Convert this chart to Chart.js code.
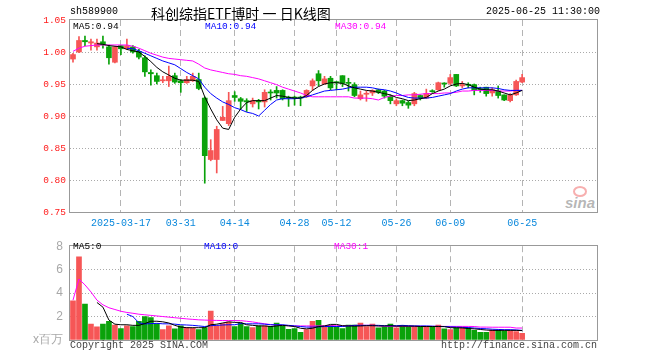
<!DOCTYPE html>
<html>
<head>
<meta charset="utf-8">
<script src="https://cdn.jsdelivr.net/npm/chart.js@4.4.1/dist/chart.umd.min.js"></script>
<style>
  body { margin: 0; background: #fff; }
  #wrap { position: relative; width: 660px; height: 360px; overflow: hidden; font-family: "Liberation Mono", monospace; }
  #wrap canvas { position: absolute; left: 0; }
  .t { position: absolute; white-space: pre; font-size: 10px; line-height: 12px; color: #000; }
  .logo { position: absolute; left: 573px; top: 186px; width: 10px; height: 7px; border: 2px solid rgba(240,110,110,0.55); border-radius: 50%; }
  .logotxt { position: absolute; left: 565px; top: 194px; font: italic bold 15px "Liberation Sans", sans-serif; color: rgba(120,120,120,0.55); }
</style>
</head>
<body>
<div id="wrap">
  <div class="logo"></div>
  <div class="logotxt">sina</div>
  <canvas id="kline" width="660" height="232" style="top:0"></canvas>
  <canvas id="volume" width="660" height="128" style="top:232px"></canvas>

  <div class="t" style="left:70px;top:6px">sh589900</div>
  <div class="t" style="left:151px;top:4px;font:14px 'Noto Sans CJK SC';line-height:18px">科创综指ETF博时 一 日K线图</div>
  <div class="t" style="left:486px;top:6px">2025-06-25 11:30:00</div>

  <div class="t" style="left:73px;top:21px;font-size:9.5px">MA5:0.94</div>
  <div class="t" style="left:205px;top:21px;font-size:9.5px;color:#0000ff">MA10:0.94</div>
  <div class="t" style="left:335px;top:21px;font-size:9.5px;color:#ff00ff">MA30:0.94</div>

  <div class="t" style="left:73px;top:241px;font-size:9.5px">MA5:0</div>
  <div class="t" style="left:204px;top:241px;font-size:9.5px;color:#0000ff">MA10:0</div>
  <div class="t" style="left:334px;top:241px;font-size:9.5px;color:#ff00ff">MA30:1</div>

  <div class="t" style="left:70px;top:340px;color:#444">Copyright 2025 SINA.COM</div>
  <div class="t" style="left:441px;top:340px;color:#444">http://finance.sina.com.cn</div>
</div>

<script>
// trading days shown on the chart
const dates = [
  '2025-03-05','2025-03-06','2025-03-07','2025-03-10','2025-03-11','2025-03-12','2025-03-13','2025-03-14',
  '2025-03-17','2025-03-18','2025-03-19','2025-03-20','2025-03-21','2025-03-24','2025-03-25','2025-03-26',
  '2025-03-27','2025-03-28','2025-03-31','2025-04-01','2025-04-02','2025-04-03','2025-04-07','2025-04-08',
  '2025-04-09','2025-04-10','2025-04-11','2025-04-14','2025-04-15','2025-04-16','2025-04-17','2025-04-18',
  '2025-04-21','2025-04-22','2025-04-23','2025-04-24','2025-04-25','2025-04-28','2025-04-29','2025-04-30',
  '2025-05-06','2025-05-07','2025-05-08','2025-05-09','2025-05-12','2025-05-13','2025-05-14','2025-05-15',
  '2025-05-16','2025-05-19','2025-05-20','2025-05-21','2025-05-22','2025-05-23','2025-05-26','2025-05-27',
  '2025-05-28','2025-05-29','2025-05-30','2025-06-03','2025-06-04','2025-06-05','2025-06-06','2025-06-09',
  '2025-06-10','2025-06-11','2025-06-12','2025-06-13','2025-06-16','2025-06-17','2025-06-18','2025-06-19',
  '2025-06-20','2025-06-23','2025-06-24','2025-06-25'
];
const tickDates = ['2025-03-17','2025-03-31','2025-04-14','2025-04-28','2025-05-12','2025-05-26','2025-06-09','2025-06-25'];

const open = [
  0.989,1.000,1.018,1.014,1.008,1.016,1.008,0.984,1.010,1.005,
  1.008,1.001,0.991,0.968,0.963,0.955,0.955,0.963,0.955,0.952,
  0.955,0.957,0.928,0.832,0.832,0.893,0.888,0.932,0.927,0.924,
  0.919,0.923,0.922,0.937,0.940,0.940,0.929,0.929,0.929,0.930,
  0.947,0.966,0.950,0.959,0.953,0.963,0.952,0.949,0.927,0.934,
  0.936,0.941,0.939,0.931,0.919,0.924,0.921,0.919,0.932,0.928,
  0.939,0.941,0.951,0.951,0.965,0.947,0.949,0.949,0.942,0.945,
  0.936,0.939,0.933,0.924,0.933,0.953
];
const high = [
  0.998,1.024,1.025,1.020,1.020,1.025,1.011,1.009,1.010,1.020,
  1.010,1.004,0.994,0.972,0.967,0.962,0.978,0.967,0.957,0.962,
  0.967,0.967,0.930,0.863,0.884,0.915,0.937,0.938,0.929,0.927,
  0.928,0.926,0.941,0.941,0.946,0.941,0.931,0.931,0.931,0.941,
  0.958,0.971,0.962,0.962,0.954,0.963,0.959,0.952,0.939,0.939,
  0.941,0.942,0.940,0.933,0.927,0.925,0.923,0.937,0.933,0.942,
  0.941,0.953,0.952,0.965,0.965,0.954,0.952,0.950,0.945,0.945,
  0.944,0.947,0.933,0.935,0.956,0.965
];
const low = [
  0.984,0.999,1.010,1.003,1.003,1.006,0.981,0.983,0.996,1.004,
  0.998,0.989,0.962,0.948,0.950,0.952,0.946,0.951,0.937,0.951,
  0.954,0.941,0.795,0.830,0.811,0.893,0.885,0.923,0.911,0.907,
  0.914,0.911,0.914,0.925,0.928,0.925,0.915,0.917,0.916,0.929,
  0.940,0.947,0.950,0.941,0.941,0.946,0.939,0.930,0.925,0.923,
  0.932,0.935,0.928,0.919,0.916,0.916,0.912,0.916,0.925,0.927,
  0.937,0.940,0.945,0.949,0.946,0.944,0.944,0.933,0.937,0.931,
  0.931,0.928,0.924,0.922,0.932,0.952
];
const close = [
  0.996,1.018,1.016,1.016,1.014,1.011,0.991,1.008,1.005,1.010,
  1.000,0.992,0.969,0.966,0.954,0.956,0.962,0.953,0.952,0.957,
  0.962,0.943,0.838,0.846,0.879,0.898,0.924,0.929,0.923,0.922,
  0.924,0.922,0.937,0.936,0.936,0.927,0.928,0.928,0.928,0.940,
  0.955,0.955,0.958,0.944,0.952,0.951,0.951,0.932,0.933,0.935,
  0.940,0.937,0.931,0.924,0.924,0.920,0.917,0.935,0.928,0.935,
  0.938,0.952,0.950,0.960,0.947,0.949,0.948,0.940,0.941,0.935,
  0.941,0.932,0.925,0.933,0.954,0.960
];

const ma5 = [
  null,null,null,null,1.013,1.012,1.010,1.009,1.008,1.004,
  1.002,1.000,0.993,0.985,0.976,0.969,0.964,0.959,0.956,0.956,
  0.956,0.954,0.930,0.911,0.894,0.881,0.879,0.898,0.911,0.921,
  0.924,0.924,0.924,0.928,0.932,0.931,0.929,0.928,0.928,0.932,
  0.940,0.946,0.950,0.952,0.952,0.951,0.947,0.944,0.942,0.940,
  0.939,0.937,0.935,0.933,0.929,0.927,0.924,0.925,0.927,0.929,
  0.935,0.939,0.942,0.947,0.950,0.951,0.949,0.945,0.942,0.941,
  0.941,0.939,0.936,0.933,0.936,0.940
];
const ma10 = [
  null,null,null,null,null,null,null,null,null,1.006,
  1.005,1.002,0.998,0.994,0.990,0.986,0.983,0.980,0.974,0.968,
  0.963,0.958,0.945,0.935,0.928,0.922,0.918,0.913,0.910,0.906,
  0.904,0.900,0.909,0.918,0.925,0.927,0.927,0.927,0.928,0.930,
  0.933,0.936,0.939,0.940,0.941,0.942,0.944,0.945,0.945,0.945,
  0.944,0.942,0.941,0.939,0.936,0.932,0.929,0.928,0.928,0.928,
  0.929,0.931,0.933,0.935,0.939,0.942,0.944,0.944,0.944,0.944,
  0.944,0.943,0.941,0.940,0.940,0.940
];
const ma30 = [
  1.001,1.006,1.009,1.010,1.011,1.011,1.011,1.011,1.011,1.011,
  1.009,1.006,1.002,0.998,0.995,0.992,0.990,0.989,0.988,0.987,
  0.986,0.981,0.975,0.972,0.970,0.968,0.966,0.965,0.963,0.962,
  0.960,0.958,0.955,0.952,0.949,0.945,0.942,0.939,0.936,0.932,
  0.930,0.930,0.930,0.930,0.930,0.930,0.930,0.928,0.928,0.928,
  0.927,0.925,0.929,0.931,0.932,0.932,0.933,0.933,0.934,0.935,
  0.935,0.935,0.936,0.936,0.937,0.939,0.939,0.940,0.940,0.940,
  0.940,0.939,0.939,0.939,0.940,0.940
];

// volume, millions of shares
const volume = [
  3.35,7.10,3.06,1.36,1.12,1.36,1.60,1.28,0.98,1.20,
  1.14,1.60,2.00,1.91,1.38,0.88,1.20,0.96,1.20,1.06,
  1.01,0.88,1.06,2.47,1.20,1.41,1.52,1.14,1.44,1.14,
  1.06,1.20,1.20,1.17,1.44,1.20,0.90,0.98,0.66,0.88,
  1.60,1.68,1.12,1.25,1.12,0.98,1.28,1.28,1.44,1.14,
  1.36,1.04,1.14,1.36,1.04,1.25,1.14,1.14,1.14,1.14,
  1.14,1.28,0.96,0.88,1.04,1.04,1.04,0.82,0.66,0.66,
  0.85,0.82,0.77,0.77,0.72,0.56
];
const volMa5 = [
  null,null,null,null,3.20,2.80,1.70,1.35,1.30,1.30,
  1.25,1.25,1.40,1.60,1.60,1.55,1.45,1.25,1.10,1.05,
  1.05,1.05,1.05,1.30,1.35,1.45,1.55,1.50,1.50,1.30,
  1.25,1.20,1.20,1.15,1.20,1.25,1.20,1.15,1.00,0.95,
  1.00,1.15,1.20,1.33,1.33,1.22,1.20,1.18,1.20,1.22,
  1.22,1.20,1.20,1.22,1.18,1.18,1.18,1.18,1.15,1.15,
  1.15,1.15,1.14,1.05,1.04,1.03,0.98,0.95,0.90,0.85,
  0.82,0.82,0.82,0.82,0.82,0.80
];
const volMa10 = [
  null,null,null,null,null,null,null,null,null,2.20,
  2.00,1.47,1.37,1.40,1.42,1.38,1.38,1.35,1.30,1.28,
  1.25,1.20,1.15,1.22,1.25,1.28,1.30,1.30,1.40,1.38,
  1.38,1.38,1.35,1.30,1.30,1.30,1.25,1.20,1.15,1.10,
  1.10,1.12,1.15,1.15,1.15,1.15,1.20,1.25,1.25,1.25,
  1.25,1.25,1.22,1.22,1.22,1.25,1.22,1.20,1.20,1.20,
  1.18,1.16,1.15,1.12,1.10,1.08,1.06,1.02,0.98,0.96,
  0.92,0.90,0.88,0.88,0.86,0.82
];
const volMa30 = [
  3.40,5.20,4.70,4.10,3.40,3.00,2.75,2.60,2.45,2.35,
  2.28,2.20,2.15,2.10,2.05,2.00,1.95,1.90,1.85,1.80,
  1.76,1.72,1.70,1.68,1.67,1.66,1.66,1.66,1.65,1.60,
  1.54,1.46,1.38,1.32,1.28,1.25,1.22,1.20,1.20,1.20,
  1.20,1.20,1.22,1.22,1.22,1.22,1.22,1.24,1.25,1.25,
  1.25,1.20,1.17,1.17,1.17,1.17,1.17,1.17,1.17,1.16,
  1.16,1.16,1.16,1.16,1.16,1.16,1.16,1.15,1.10,1.10,
  1.09,1.09,1.09,1.09,1.02,1.02
];

// the sina chart leaves room on the right for future days
const labels = dates.concat(Array(12).fill(''));
const tickIdx = tickDates.map(d => labels.indexOf(d));
const RED = '#f65656', GREEN = '#0aa20a';
const colors = close.map((c, i) => c >= open[i] ? RED : GREEN);

const frame = {
  id: 'frame',
  afterDraw(chart) {
    const a = chart.chartArea, ctx = chart.ctx;
    ctx.save();
    ctx.strokeStyle = '#999';
    ctx.lineWidth = 1;
    ctx.strokeRect(Math.round(a.left) - 0.5, Math.round(a.top) - 0.5, Math.round(a.right - a.left) + 1, Math.round(a.bottom - a.top) + 1);
    ctx.restore();
  }
};

function xScale(showLabels, h) {
  return {
    offset: true,
    afterFit: axis => { axis.height = h; },
    grid: {
      offset: false,
      drawTicks: false,
      color: c => tickIdx.includes(c.index) ? '#b4b4b4' : 'rgba(0,0,0,0)'
    },
    border: { display: false, dash: [6, 4] },
    ticks: {
      display: showLabels,
      autoSkip: false,
      maxRotation: 0,
      minRotation: 0,
      padding: 5,
      color: '#0a88dc',
      font: { family: 'Liberation Mono', size: 10 },
      callback: function (v, i) {
        if (!tickIdx.includes(i)) return '';
        const d = labels[i];
        return i === tickIdx[0] ? d : d.slice(5);
      }
    }
  };
}

function maLine(data, color) {
  return {
    type: 'line', data: data, borderColor: color, borderWidth: 1,
    pointRadius: 0, tension: 0, fill: false, order: 0
  };
}

new Chart(document.getElementById('kline'), {
  type: 'bar',
  data: {
    labels: labels,
    datasets: [
      { data: low.map((l, i) => [l, high[i]]), backgroundColor: colors, barThickness: 1, grouped: false, order: 3 },
      { data: open.map((o, i) => [o, close[i]]), backgroundColor: colors, barThickness: 5, minBarLength: 1, grouped: false, order: 2 },
      maLine(ma5, '#000000'),
      maLine(ma10, '#0000ff'),
      maLine(ma30, '#ff00ff')
    ]
  },
  options: {
    responsive: false,
    animation: false,
    layout: { padding: { top: 20, right: 63, bottom: 0, left: 0 } },
    scales: {
      x: xScale(true, 20),
      y: {
        min: 0.75, max: 1.05,
        afterFit: axis => { axis.width = 70; },
        grid: {
          drawTicks: false,
          color: c => (c.tick.value > 0.76 && c.tick.value < 1.04) ? '#aaa' : 'rgba(0,0,0,0)'
        },
        border: { display: false, dash: [1, 2] },
        ticks: {
          stepSize: 0.05,
          padding: 4,
          color: '#ff1a1a',
          font: { family: 'Liberation Mono', size: 9.5 },
          callback: v => v.toFixed(2)
        }
      }
    },
    plugins: { legend: { display: false }, tooltip: { enabled: false } }
  },
  plugins: [frame]
});

new Chart(document.getElementById('volume'), {
  type: 'bar',
  data: {
    labels: labels,
    datasets: [
      { data: volume, backgroundColor: colors, barThickness: 5, grouped: false, order: 2 },
      maLine(volMa5, '#000000'),
      maLine(volMa10, '#0000ff'),
      maLine(volMa30, '#ff00ff')
    ]
  },
  options: {
    responsive: false,
    animation: false,
    layout: { padding: { top: 8, right: 63, bottom: 0, left: 0 } },
    scales: {
      x: xScale(false, 20),
      y: {
        min: 0, max: 8,
        afterFit: axis => { axis.width = 70; },
        grid: {
          drawTicks: false,
          color: c => (c.tick.value > 0 && c.tick.value < 8) ? '#aaa' : 'rgba(0,0,0,0)'
        },
        border: { display: false, dash: [1, 2] },
        ticks: {
          stepSize: 2,
          padding: 7,
          color: '#a8a8a8',
          font: { family: 'Liberation Sans', size: 12 },
          callback: v => v === 0 ? 'x百万' : v
        }
      }
    },
    plugins: { legend: { display: false }, tooltip: { enabled: false } }
  },
  plugins: [frame]
});
</script>
</body>
</html>
